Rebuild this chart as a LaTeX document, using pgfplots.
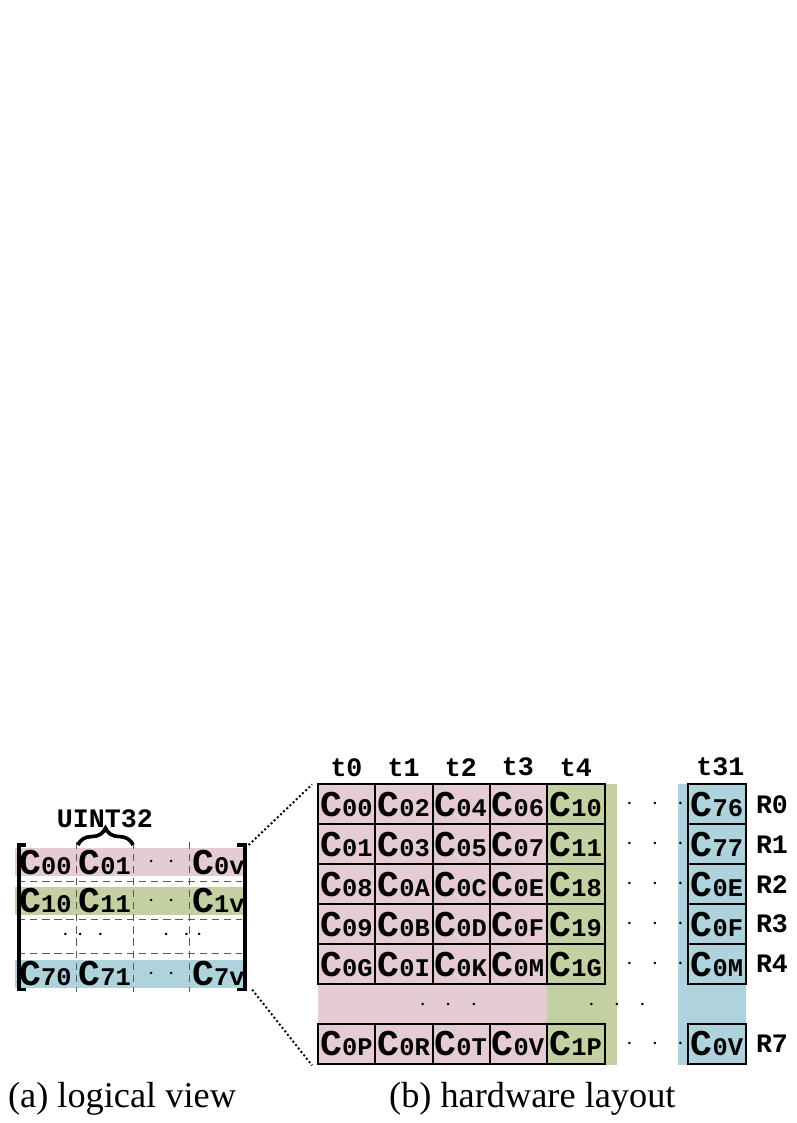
\documentclass[border=0pt]{standalone}
\usepackage{pgfplots}
\pgfplotsset{compat=1.18}
\usepackage{fontspec}
\setmainfont{Liberation Serif}
\setmonofont{Liberation Mono}
\usetikzlibrary{decorations.pathreplacing}
\definecolor{pk}{HTML}{E5CCD2}
\definecolor{gr}{HTML}{C4CFA2}
\definecolor{bl}{HTML}{AFD3DD}
\newcommand{\cc}[1]{{\ttfamily\bfseries\fontsize{15}{15}\selectfont C\fontsize{10.5}{10.5}\selectfont #1}}
\newcommand{\tl}[1]{{\ttfamily\bfseries\fontsize{11}{11}\selectfont #1}}
\begin{document}
\begin{tikzpicture}
\begin{axis}[scale only axis, width=11.23cm, height=5.46cm, xmin=0, xmax=1123, ymin=0, ymax=546, y dir=reverse, axis lines=none, clip=false]
\addplot[draw=none] coordinates {(0,0) (1123,546)};
\end{axis}
\begin{scope}[x=0.01cm, y=-0.01cm, shift={(0,546)}]
% left panel
\fill[pk] (0,140) rectangle (335,180);
\fill[gr] (0,196) rectangle (335,236);
\fill[bl] (0,302) rectangle (335,342);
\foreach \y in {188,243,292} \draw[densely dashed, gray!70!black, thin] (5,\y) -- (330,\y);
\foreach \x in {90,173,254} \draw[densely dashed, gray!70!black, thin] (\x,130) -- (\x,348);
\draw[line width=1.5pt] (16,135) -- (6,135) -- (6,345) -- (16,345);
\draw[line width=1.5pt] (323,135) -- (335,135) -- (335,345) -- (323,345);
\draw[line width=1.5pt, decorate, decoration={brace, amplitude=7pt}] (92,135) -- (172,135);
\node at (131,97) {\tl{UINT32}};
\node at (45,160) {\cc{00}}; \node at (131,160) {\cc{01}}; \node at (213,160) {$\cdot\;\;\cdot$}; \node at (296,160) {\cc{0v}};
\node at (45,216) {\cc{10}}; \node at (131,216) {\cc{11}}; \node at (213,216) {$\cdot\;\;\cdot$}; \node at (296,216) {\cc{1v}};
\node at (45,322) {\cc{70}}; \node at (131,322) {\cc{71}}; \node at (213,322) {$\cdot\;\;\cdot$}; \node at (296,322) {\cc{7v}};
\node at (74,266) {$\cdot$}; \node at (110,266) {$\cdot\;\;\cdot$}; \node at (235,266) {$\cdot\;\;\cdot$}; \node at (268,266) {$\cdot$};
\draw[densely dotted, thick] (340,135) -- (432,47);
\draw[densely dotted, thick] (345,345) -- (432,455);
% right panel
\fill[pk] (440,47) rectangle (773,455);
\fill[gr] (773,47) rectangle (875,455);
\fill[bl] (963,47) rectangle (1062,455);
\foreach \y/\a/\b/\c/\d/\e/\f/\r in {47/00/02/04/06/10/76/R0, 105/01/03/05/07/11/77/R1, 163/08/0A/0C/0E/18/0E/R2, 221/09/0B/0D/0F/19/0F/R3, 279/0G/0I/0K/0M/1G/0M/R4, 395/0P/0R/0T/0V/1P/0V/R7} {
  \draw[thick] (440,\y) rectangle (857,\y+58);
  \foreach \x in {524,607,690,773} \draw[thick] (\x,\y) -- (\x,\y+58);
  \draw[thick] (978,\y) rectangle (1062,\y+58);
  \node at (482,\y+29) {\cc{\a}};
  \node at (565,\y+29) {\cc{\b}};
  \node at (648,\y+29) {\cc{\c}};
  \node at (731,\y+29) {\cc{\d}};
  \node at (815,\y+29) {\cc{\e}};
  \node at (1020,\y+29) {\cc{\f}};
  \node at (1100,\y+29) {\tl{\r}};
  \node at (930,\y+29) {$\cdot\;\;\cdot\;\;\cdot$};
}
\node at (630,367) {$\cdot\;\;\cdot\;\;\cdot$};
\node at (875,367) {$\cdot\;\;\cdot\;\;\cdot$};
\foreach \x/\t in {482/t0,565/t1,648/t2,731/t3,815/t4,1025/t31} \node at (\x,22) {\tl{\t}};
\node at (156,503) {\fontsize{15}{15}\selectfont (a) logical view};
\node at (752,503) {\fontsize{15}{15}\selectfont (b) hardware layout};
\end{scope}
\end{tikzpicture}
\end{document}
